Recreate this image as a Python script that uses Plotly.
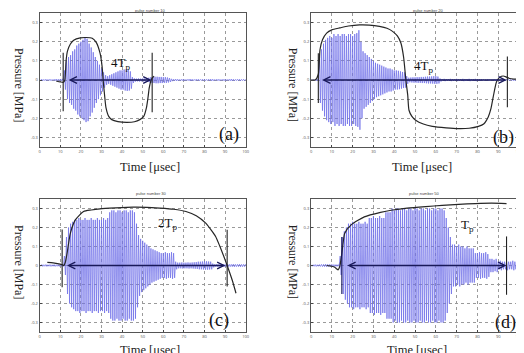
import plotly.graph_objects as go

# page size and the browser's default 8px body margin (the figure starts at page pixel 8,8)
W, H = 524, 353
PAD = 8
FW, FH = W - PAD, H - PAD

time_us = list(range(101))

amp_a = [0.003, 0.004, 0.003, 0.004, 0.003, 0.004, 0.003, 0.004, 0.005, 0.004,
         0.005, 0.006, 0.05, 0.10, 0.12, 0.13, 0.15, 0.16, 0.18, 0.19,
         0.20, 0.21, 0.22, 0.215, 0.19, 0.17, 0.145, 0.12, 0.10, 0.08,
         0.06, 0.04, 0.025, 0.02, 0.025, 0.03, 0.035, 0.04, 0.045, 0.05,
         0.05, 0.055, 0.057, 0.055, 0.045, 0.015, 0.008, 0.007, 0.008, 0.007,
         0.008, 0.008, 0.01, 0.012, 0.015, 0.016, 0.017, 0.017, 0.016, 0.016,
         0.015, 0.015, 0.013, 0.01, 0.006, 0.004, 0.005, 0.004, 0.003, 0.004,
         0.004, 0.003, 0.004, 0.005, 0.004, 0.003, 0.004, 0.004, 0.003, 0.004,
         0.004, 0.003, 0.004, 0.005, 0.004, 0.003, 0.004, 0.004, 0.003, 0.004,
         0.004, 0.003, 0.004, 0.005, 0.004, 0.003, 0.004, 0.004, 0.003, 0.004, 0.003]

amp_b = [0.003, 0.003, 0.004, 0.005, 0.12, 0.16, 0.19, 0.21, 0.22, 0.23,
         0.22, 0.24, 0.23, 0.24, 0.23, 0.24, 0.24, 0.23, 0.24, 0.24,
         0.23, 0.24, 0.245, 0.26, 0.20, 0.15, 0.14, 0.13, 0.12, 0.11,
         0.10, 0.09, 0.085, 0.08, 0.075, 0.07, 0.065, 0.06, 0.06, 0.055,
         0.05, 0.05, 0.048, 0.045, 0.042, 0.04, 0.02, 0.012, 0.013, 0.014,
         0.014, 0.015, 0.015, 0.016, 0.016, 0.017, 0.018, 0.018, 0.019, 0.02,
         0.02, 0.018, 0.008, 0.005, 0.006, 0.005, 0.005, 0.006, 0.005, 0.005,
         0.006, 0.005, 0.005, 0.006, 0.005, 0.005, 0.006, 0.005, 0.005, 0.006,
         0.005, 0.005, 0.004, 0.003, 0.003, 0.004, 0.003, 0.003, 0.004, 0.003,
         0.003, 0.004, 0.003, 0.003, 0.004, 0.003, 0.003, 0.004, 0.003, 0.003, 0.004]

amp_c = [0.004, 0.005, 0.004, 0.005, 0.004, 0.005, 0.004, 0.005, 0.004, 0.005,
         0.004, 0.005, 0.05, 0.15, 0.20, 0.22, 0.23, 0.24, 0.24, 0.25,
         0.24, 0.24, 0.25, 0.24, 0.24, 0.25, 0.24, 0.24, 0.25, 0.24,
         0.24, 0.25, 0.24, 0.25, 0.28, 0.29, 0.29, 0.28, 0.29, 0.29,
         0.28, 0.29, 0.29, 0.28, 0.29, 0.29, 0.28, 0.22, 0.16, 0.14,
         0.13, 0.12, 0.11, 0.10, 0.09, 0.085, 0.08, 0.075, 0.07, 0.065,
         0.065, 0.07, 0.065, 0.065, 0.07, 0.065, 0.02, 0.015, 0.015, 0.016,
         0.015, 0.015, 0.016, 0.015, 0.016, 0.017, 0.018, 0.02, 0.02, 0.021,
         0.022, 0.022, 0.021, 0.02, 0.01, 0.006, 0.007, 0.006, 0.006, 0.007,
         0.006, 0.007, 0.006, 0.006, 0.007, 0.006, 0.006, 0.007, 0.006, 0.006, 0.007]

amp_d = [0.004, 0.004, 0.005, 0.004, 0.005, 0.006, 0.006, 0.007, 0.006, 0.006,
         0.006, 0.005, 0.005, 0.005, 0.05, 0.15, 0.18, 0.20, 0.22, 0.22,
         0.23, 0.22, 0.22, 0.23, 0.22, 0.22, 0.23, 0.22, 0.25, 0.25,
         0.26, 0.25, 0.25, 0.26, 0.25, 0.25, 0.28, 0.28, 0.28, 0.30,
         0.29, 0.30, 0.30, 0.29, 0.30, 0.30, 0.29, 0.30, 0.30, 0.29,
         0.30, 0.30, 0.29, 0.30, 0.30, 0.29, 0.30, 0.30, 0.29, 0.30,
         0.30, 0.29, 0.30, 0.30, 0.29, 0.25, 0.20, 0.15, 0.11, 0.11,
         0.10, 0.11, 0.10, 0.10, 0.09, 0.10, 0.09, 0.09, 0.09, 0.065,
         0.065, 0.07, 0.065, 0.065, 0.07, 0.06, 0.035, 0.035, 0.03, 0.035,
         0.02, 0.025, 0.02, 0.02, 0.025, 0.02, 0.02, 0.025, 0.02, 0.02, 0.02]

env_a_x = [8, 10, 11.5, 12.2, 12.8, 13.5, 14.9, 16.5, 19.7, 22.5, 25.5, 27.5, 29.3, 30.3, 30.8,
           31.5, 32.2, 33.5, 35, 38, 42.2, 46, 48.6, 50.5, 51.8, 52.6, 53.2, 54.3, 55.5]
env_a_y = [-0.005, -0.01, -0.012, 0.0, 0.1, 0.152, 0.188, 0.208, 0.22, 0.222, 0.218, 0.195, 0.14, 0.07, 0.0,
           -0.08, -0.146, -0.19, -0.207, -0.217, -0.221, -0.218, -0.207, -0.19, -0.146, -0.09, -0.04, 0.005, 0.02]

env_b_x = [0, 2, 3.5, 4.3, 5.5, 7.5, 10, 13.8, 18, 23.3, 28, 32.9, 36.5, 39.2, 41.5, 43.2, 44.5, 45.6,
           46.5, 47.1, 48.5, 50.3, 54, 58.3, 65, 71, 76, 80.5, 83, 85.2, 86.5, 87.6, 89.2, 90.8, 92.4,
           94, 95.5, 97.5, 99.5]
env_b_y = [0.0, 0.0, 0.03, 0.158, 0.21, 0.245, 0.262, 0.272, 0.282, 0.288, 0.287, 0.28, 0.27, 0.254,
           0.23, 0.193, 0.12, 0.0, -0.08, -0.158, -0.19, -0.21, -0.23, -0.242, -0.25, -0.254, -0.252,
           -0.242, -0.23, -0.193, -0.15, -0.088, -0.009, 0.015, 0.021, 0.015, 0.008, 0.005, 0.005]

env_c_x = [3.7, 6.5, 9.3, 11.0, 11.7, 12.5, 13.3, 14.9, 17.3, 21.3, 25, 29.3, 37, 45.3, 52, 58.2, 65,
           71, 76, 80.6, 83, 85.4, 87.5, 89.4, 91, 93.4, 95.3]
env_c_y = [0.016, 0.014, 0.009, 0.004, 0.0, 0.02, 0.065, 0.17, 0.24, 0.284, 0.292, 0.298, 0.303, 0.307,
           0.306, 0.302, 0.296, 0.284, 0.262, 0.223, 0.19, 0.153, 0.1, 0.047, 0.0, -0.075, -0.146]

env_d_x = [7.5, 10, 11.4, 12.3, 13, 13.8, 14.6, 15.4, 16.2, 19.4, 25.6, 33.4, 39.2, 46.2, 55.1, 63,
           71, 79, 86.8, 94]
env_d_y = [0.0, -0.004, -0.009, -0.018, -0.023, -0.005, 0.047, 0.117, 0.17, 0.215, 0.256, 0.28, 0.292,
           0.302, 0.31, 0.316, 0.322, 0.326, 0.328, 0.326]

marker_a = [[11.4, 0.142, -0.163], [54.6, 0.142, -0.168]]
marker_b = [[3.5, 0.14, -0.12], [94.4, 0.123, -0.142]]
marker_c = [[10.9, 0.19, -0.114], [91.0, 0.188, -0.11]]
marker_d = [[14.8, 0.15, -0.15], [94.0, 0.153, -0.154]]

arrow_a = [13.3, 54.3]
arrow_b = [4.6, 94.1]
arrow_c = [12.5, 90.2]
arrow_d = [16.7, 94.0]

period_text = ["4T<sub>p</sub>", "4T<sub>p</sub>", "2T<sub>p</sub>", "T<sub>p</sub>"]
period_pos = [[39, 0.085], [54, 0.068], [62, 0.22], [75, 0.21]]
panel_tags = ["(a)", "(b)", "(c)", "(d)"]
titles = ["pulse number 10", "pulse number 20", "pulse number 30", "pulse number 50"]

x_ticks = [0, 10, 20, 30, 40, 50, 60, 70, 80, 90, 100]
y_ticks = [-0.3, -0.2, -0.1, 0, 0.1, 0.2, 0.3]
y_ticktext = ["-0.3", "-0.2", "-0.1", "0", "0.1", "0.2", "0.3"]

# page-pixel boxes of each axes: left, right, top, bottom
boxes = [(39, 247, 13, 147), (313, 523, 13, 147), (39, 247, 199, 332), (313, 523, 199, 332)]
tag_px = [(230, 135), (507, 137), (220, 320), (509, 322)]
title_px = [(151, 10.5), (432, 10.5), (152, 193), (428, 193)]
ylab_px = [(18, 85), (295, 85), (18, 262), (295, 262)]
xlab_px = [(150, 167), (425, 167), (150, 350), (420, 350)]

amps = [amp_a, amp_b, amp_c, amp_d]
envs = [(env_a_x, env_a_y), (env_b_x, env_b_y), (env_c_x, env_c_y), (env_d_x, env_d_y)]
markers = [marker_a, marker_b, marker_c, marker_d]
arrows = [arrow_a, arrow_b, arrow_c, arrow_d]

SERIF = "Liberation Serif, Times New Roman, serif"
BLUE = "rgb(112,112,232)"
NAVY = "rgb(25,25,90)"


def px2paper_x(px):
    return (px - PAD) / FW


def px2paper_y(py):
    return 1 - (py - PAD) / FH


fig = go.Figure()
annotations = []
layout = dict(width=FW, height=FH, margin=dict(l=0, r=0, t=0, b=0),
              paper_bgcolor="white", plot_bgcolor="white", showlegend=False)


def paper_text(px, py, text, font, angle=0):
    return dict(x=px2paper_x(px), y=px2paper_y(py), xref="paper", yref="paper", text=text,
                showarrow=False, xanchor="center", yanchor="middle", textangle=angle, font=font)


for i in range(4):
    sfx = "" if i == 0 else str(i + 1)
    xa, ya = "x" + sfx, "y" + sfx
    l, r, t, b = boxes[i]
    layout["xaxis" + sfx] = dict(domain=[px2paper_x(l), min(1.0, px2paper_x(r))], range=[0, 100], anchor=ya,
                                 tickvals=x_ticks, ticks="inside", ticklen=2, tickcolor="#444",
                                 showgrid=True, gridcolor="#9a9a9a", griddash="dot", gridwidth=0.8,
                                 showline=True, mirror=True, linecolor="#555", linewidth=1,
                                 zeroline=False, tickfont=dict(size=4, color="#555"))
    layout["yaxis" + sfx] = dict(domain=[px2paper_y(b), px2paper_y(t)], range=[-0.35, 0.35], anchor=xa,
                                 tickvals=y_ticks, ticktext=y_ticktext, ticks="inside", ticklen=2,
                                 tickcolor="#444",
                                 showgrid=True, gridcolor="#9a9a9a", griddash="dot", gridwidth=0.8,
                                 showline=True, mirror=True, linecolor="#555", linewidth=1,
                                 zeroline=False, tickfont=dict(size=4, color="#555"))
    # oscillating pressure signal
    sx, sy = [], []
    for tt, a in zip(time_us, amps[i]):
        sx += [tt, tt + 0.5]
        sy += [a, -a]
    fig.add_trace(go.Scatter(x=sx, y=sy, mode="lines", line=dict(color=BLUE, width=0.75),
                             xaxis=xa, yaxis=ya, hoverinfo="skip"))
    # envelope
    ex, ey = envs[i]
    fig.add_trace(go.Scatter(x=ex, y=ey, mode="lines",
                             line=dict(color="#262626", width=1.2, shape="spline", smoothing=0.6),
                             xaxis=xa, yaxis=ya, hoverinfo="skip"))
    # vertical markers
    for k, (mx, y1, y0) in enumerate(markers[i]):
        col = NAVY if (i == 3 and k == 0) else "#222222"
        fig.add_trace(go.Scatter(x=[mx, mx], y=[y1, y0], mode="lines", line=dict(color=col, width=1.1),
                                 xaxis=xa, yaxis=ya, hoverinfo="skip"))
    # double arrow
    x0, x1 = arrows[i]
    annotations.append(dict(x=x1, y=0, ax=x0, ay=0, xref=xa, yref=ya, axref=xa, ayref=ya,
                            text="", showarrow=True, arrowhead=5, startarrowhead=5,
                            arrowside="end+start", arrowsize=0.9, startarrowsize=0.9,
                            arrowwidth=1.5, arrowcolor=NAVY))
    # period text
    px_, py_ = period_pos[i]
    annotations.append(dict(x=px_, y=py_, xref=xa, yref=ya, text=period_text[i], showarrow=False,
                            xanchor="center", yanchor="middle",
                            font=dict(family=SERIF, size=13, color="#111")))
    annotations.append(paper_text(*tag_px[i], panel_tags[i], dict(family=SERIF, size=18, color="#111")))
    annotations.append(paper_text(*title_px[i], titles[i], dict(family="Liberation Sans, Arial", size=4, color="#444")))
    annotations.append(paper_text(*ylab_px[i], "Pressure [MPa]", dict(family=SERIF, size=12, color="#222"), 90))
    annotations.append(paper_text(*xlab_px[i], "Time [μsec]", dict(family=SERIF, size=12.5, color="#222")))

layout["annotations"] = annotations
fig.update_layout(**layout)
fig.write_html("out.html")
